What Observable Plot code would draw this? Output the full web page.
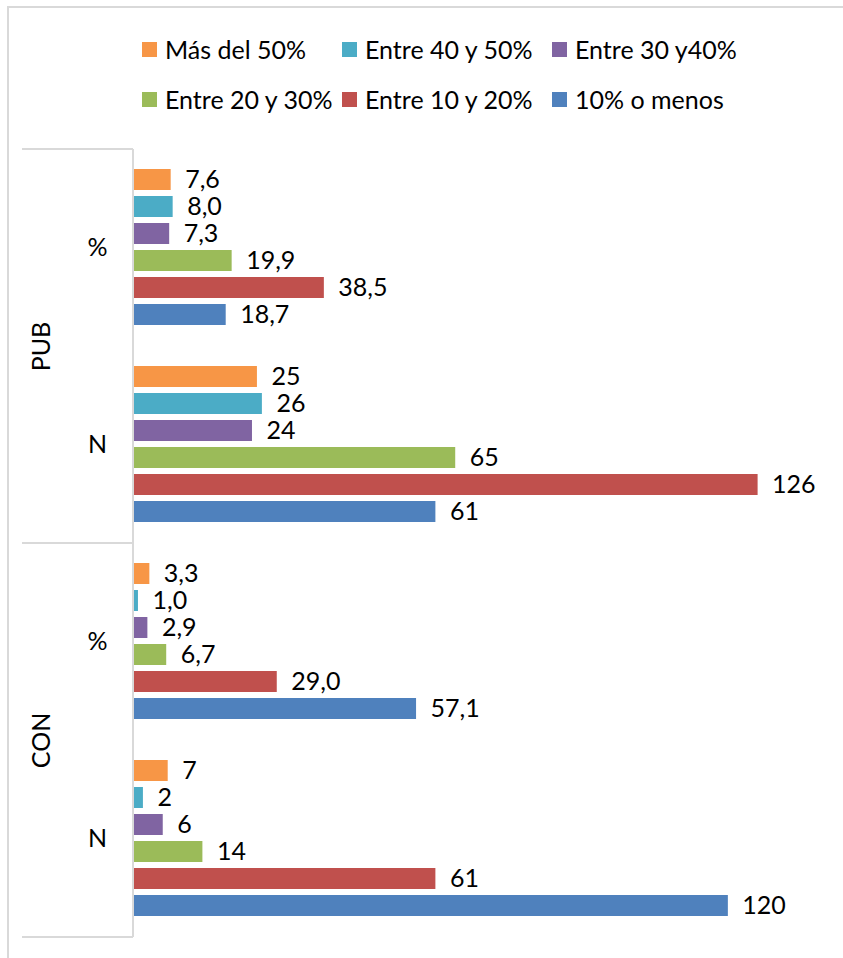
<!DOCTYPE html>
<html>
<head>
<meta charset="utf-8">
<script src="https://cdn.jsdelivr.net/npm/d3@7"></script>
<script src="https://cdn.jsdelivr.net/npm/@observablehq/plot@0.6"></script>
<style>
  html, body { margin: 0; padding: 0; background: #fff; overflow: hidden; }
  body { font-family: Lato, "Open Sans", sans-serif; }
  #wrap { position: relative; width: 843px; height: 958px; overflow: hidden; }
  #frame { position: absolute; left: 7px; top: 6px; width: 1000px; height: 1100px;
           border: 2px solid #d9d9d9; box-sizing: border-box; }
  #chart { position: absolute; left: 0; top: 0; }
  .item { position: absolute; display: flex; align-items: center; font-size: 25px; color: #000;
          white-space: nowrap; line-height: 1; }
  .sw { width: 15px; height: 15px; margin-right: 8px; flex: none; }
</style>
</head>
<body>
<div id="wrap">
  <div id="frame"></div>
  <div id="chart"></div>
  <div id="legend"></div>
</div>
<script>
// ---- data ----
const groups = ["PUB", "CON"];
const measures = ["%", "N"];
const series = ["Más del 50%", "Entre 40 y 50%", "Entre 30 y40%", "Entre 20 y 30%", "Entre 10 y 20%", "10% o menos"];
const colors = ["#F79646", "#4BACC6", "#8064A2", "#9BBB59", "#C0504D", "#4F81BD"];
const pubPct = [7.6, 8.0, 7.3, 19.9, 38.5, 18.7];
const pubN   = [25, 26, 24, 65, 126, 61];
const conPct = [3.3, 1.0, 2.9, 6.7, 29.0, 57.1];
const conN   = [7, 2, 6, 14, 61, 120];

const valuesByFacet = {
  "PUB|%": pubPct, "PUB|N": pubN,
  "CON|%": conPct, "CON|N": conN
};
const facets = [];
groups.forEach(g => measures.forEach(m => facets.push(g + "|" + m)));

const rows = [];
const measureLabels = [];
const groupLabels = [];
groups.forEach(g => {
  measures.forEach((m, mi) => {
    const f = g + "|" + m;
    measureLabels.push({facet: f, text: m});
    if (mi === 0) groupLabels.push({facet: f, text: g});
    valuesByFacet[f].forEach((v, i) => {
      rows.push({
        facet: f, series: series[i], value: v,
        label: m === "%" ? v.toFixed(1).replace(".", ",") : String(v)
      });
    });
  });
});

// ---- chart ----
const FS = 25;
const plot = Plot.plot({
  width: 843,
  height: 958,
  marginTop: 148,
  marginBottom: 21,
  marginLeft: 133,
  marginRight: 16,
  x: {domain: [0, 140], axis: null},
  y: {domain: series, axis: null, paddingInner: 0.214, paddingOuter: 0.634},
  fy: {domain: facets, axis: null, padding: 0},
  color: {domain: series, range: colors},
  style: {fontFamily: "Lato, 'Open Sans', sans-serif", fontSize: FS + "px", color: "#000", background: "transparent", overflow: "visible"},
  marks: [
    Plot.barX(rows, {x: "value", y: "series", fy: "facet", fill: "series"}),
    Plot.text(rows, {x: "value", y: "series", fy: "facet", text: "label", textAnchor: "start", dx: 14, fill: "#000", fontSize: FS}),
    Plot.text(measureLabels, {fy: "facet", text: "text", frameAnchor: "left", dx: -36, textAnchor: "middle", fill: "#000", fontSize: FS}),
    Plot.text(groupLabels, {fy: "facet", text: "text", frameAnchor: "bottom-left", dx: -84, rotate: -90, textAnchor: "middle", fill: "#000", fontSize: FS})
  ]
});
document.getElementById("chart").appendChild(plot);

// ---- axis decoration (category dividers and axis line), from the plot's scales ----
const fyS = plot.scale("fy");
const xS = plot.scale("x");
const x0 = xS.apply(0);
const yTop = fyS.apply(facets[0]);
const yMid = fyS.apply(facets[2]);
const yBot = fyS.apply(facets[3]) + fyS.bandwidth;
const svg = d3.select(plot);
const deco = svg.append("g").attr("stroke", "#d9d9d9").attr("stroke-width", 2).attr("fill", "none");
[yTop, yMid, yBot].forEach(y => {
  deco.append("line").attr("x1", 22).attr("x2", x0).attr("y1", y).attr("y2", y);
});
deco.append("line").attr("x1", x0).attr("x2", x0).attr("y1", yTop).attr("y2", yBot);

// ---- legend ----
const colLeft = [142, 342, 552];
const rowMid = [49, 99];
const legend = d3.select("#legend");
series.forEach((s, i) => {
  const it = legend.append("div").attr("class", "item")
    .style("left", colLeft[i % 3] + "px")
    .style("top", (rowMid[Math.floor(i / 3)] - 12) + "px")
    .style("height", "24px");
  it.append("div").attr("class", "sw").style("background", colors[i]);
  it.append("span").text(s);
});
</script>
</body>
</html>
